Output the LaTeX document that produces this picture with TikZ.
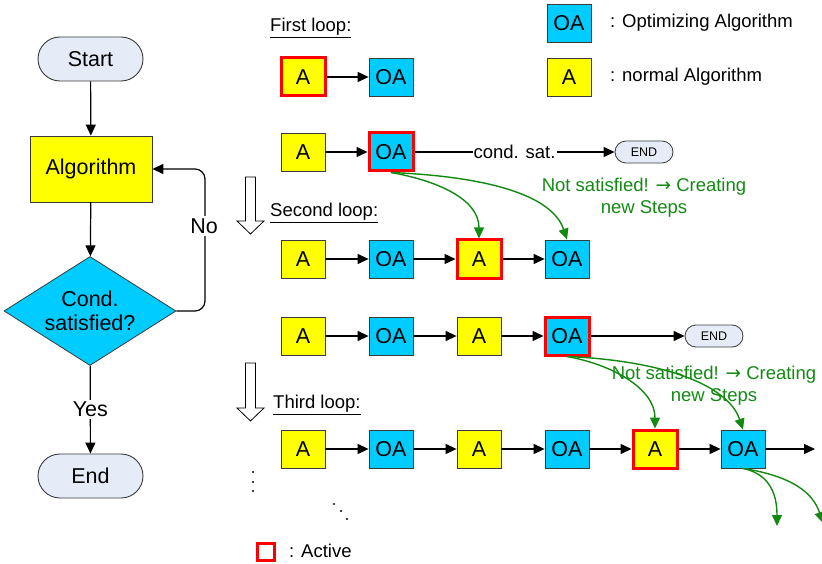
\documentclass[tikz,border=0pt]{standalone}
\usepackage{fontspec}
\setmainfont{Liberation Sans}
\newfontfamily\symfont{DejaVu Sans}
\usetikzlibrary{shapes.geometric,arrows.meta}
\definecolor{oacyan}{HTML}{00CCFF}
\definecolor{ayellow}{HTML}{FFFF00}
\definecolor{termfill}{HTML}{E6ECF7}
\definecolor{gline}{HTML}{128A12}
\definecolor{boxline}{HTML}{3A3A3A}
\begin{document}
\begin{tikzpicture}[x=1pt,y=-1pt,
  font=\fontsize{21.5}{24}\selectfont,
  abox/.style={draw=boxline, line width=0.8pt, fill=ayellow, minimum width=44pt, minimum height=38pt, inner sep=0pt},
  oabox/.style={abox, fill=oacyan},
  active/.style={draw=red, line width=3pt},
  term/.style={draw=boxline, line width=0.9pt, fill=termfill, rounded corners=22pt, minimum width=105pt, minimum height=44pt, inner sep=0pt},
  smallterm/.style={draw=boxline, line width=0.8pt, fill=termfill, rounded corners=11pt, minimum width=58pt, minimum height=22pt, inner sep=0pt, font=\fontsize{12.5}{14}\selectfont},
  arr/.style={-{Triangle[length=11pt,width=10pt]}, line width=1.2pt},
  garr/.style={-{Triangle[length=11pt,width=10pt]}, line width=1.4pt, draw=gline},
  lab/.style={font=\fontsize{18.5}{22}\selectfont, anchor=west, inner sep=0pt},
  gtext/.style={text=gline, font=\fontsize{18.5}{22}\selectfont, align=center, inner sep=0pt},
  hollow/.style={draw=black, line width=0.8pt, fill=white},
  dot/.style={fill=black, circle, inner sep=0pt, minimum size=2.2pt}
]
\useasboundingbox (0,0) rectangle (822,564);

% ---- left flowchart ----
\node[term] (start) at (90.5,59) {Start};
\node[abox, minimum width=122pt, minimum height=66pt] (alg) at (91,169) {Algorithm};
\node[diamond, draw=boxline, line width=0.8pt, fill=oacyan, aspect=1.58, inner sep=0pt,
      minimum width=172pt, minimum height=109pt, align=center] (cond) at (90,311) {Cond.\\satisfied?};
\node[term] (endn) at (90.5,476) {End};
\coordinate (nox) at (205,240);

\draw[arr] (start) -- (alg);
\draw[arr] (alg) -- (cond);
\draw[arr] (cond) -- node[fill=white, inner sep=2pt] (yes) {Yes} (endn);
\draw[arr, rounded corners=10pt] (cond.east) -| (nox) |- (alg.east);
\node[fill=white, inner sep=2pt] (no) at (204,226) {No};

% ---- legend ----
\node[oabox] (legoa) at (569,23) {OA};
\node[abox] (lega) at (569,77) {A};
\node[lab] (legoat) at (610,23) {: Optimizing Algorithm};
\node[lab] (legat) at (610,77) {: normal Algorithm};
\node[draw=red, line width=3pt, minimum size=17pt, inner sep=0pt] (legact) at (266,552) {};
\node[lab] (legactt) at (289,551) {: Active};

% ---- loop labels ----
\node[lab] (l1) at (270,28) {\underline{First loop:}};
\node[lab] (l2) at (270,213) {\underline{Second loop:}};
\node[lab] (l3) at (273,405) {\underline{Third loop:}};

% hollow arrows
\draw[hollow] (245.5,177) -- (255.5,177) -- (255.5,221) -- (264,221) -- (250.5,234) -- (237,221) -- (245.5,221) -- cycle;
\draw[hollow] (245.5,363) -- (255.5,363) -- (255.5,408) -- (264,408) -- (250.5,421) -- (237,408) -- (245.5,408) -- cycle;

% ---- row 1 ----
\node[abox, active] (r1a) at (303,77) {A};
\node[oabox] (r1oa) at (391,77) {OA};
\draw[arr] (r1a) -- (r1oa);

% ---- row 2 ----
\node[abox] (r2a) at (303,152) {A};
\node[oabox, active] (r2oa) at (391,152) {OA};
\node[smallterm] (end2) at (644,152) {END};
\draw[arr] (r2a) -- (r2oa);
\draw[arr] (r2oa) -- node[fill=white, inner sep=1pt, font=\fontsize{18.5}{22}\selectfont] (cs) {cond. sat.} (end2);
\node[gtext] (ns1) at (644,198) {Not satisfied! {\symfont →} Creating\\new Steps};

% ---- row 3 ----
\node[abox] (r3a1) at (303,259) {A};
\node[oabox] (r3oa1) at (391,259) {OA};
\node[abox, active] (r3a2) at (479,259) {A};
\node[oabox] (r3oa2) at (567,259) {OA};
\draw[arr] (r3a1) -- (r3oa1);
\draw[arr] (r3oa1) -- (r3a2);
\draw[arr] (r3a2) -- (r3oa2);
\draw[garr] (r2oa.south) .. controls +(45,8) and +(0,-40) .. (r3a2.north);
\draw[garr] (r2oa.south) .. controls +(95,4) and +(-15,-45) .. (r3oa2.north);

% ---- row 4 ----
\node[abox] (r4a1) at (303,336) {A};
\node[oabox] (r4oa1) at (391,336) {OA};
\node[abox] (r4a2) at (479,336) {A};
\node[oabox, active] (r4oa2) at (567,336) {OA};
\node[smallterm] (end4) at (714,336) {END};
\draw[arr] (r4a1) -- (r4oa1);
\draw[arr] (r4oa1) -- (r4a2);
\draw[arr] (r4a2) -- (r4oa2);
\draw[arr] (r4oa2) -- (end4);

% ---- row 5 ----
\node[abox] (r5a1) at (303,449) {A};
\node[oabox] (r5oa1) at (391,449) {OA};
\node[abox] (r5a2) at (479,449) {A};
\node[oabox] (r5oa2) at (567,449) {OA};
\node[abox, active] (r5a3) at (655,449) {A};
\node[oabox] (r5oa3) at (743,449) {OA};
\coordinate (r5end) at (815,449);
\draw[arr] (r5a1) -- (r5oa1);
\draw[arr] (r5oa1) -- (r5a2);
\draw[arr] (r5a2) -- (r5oa2);
\draw[arr] (r5oa2) -- (r5a3);
\draw[arr] (r5a3) -- (r5oa3);
\draw[arr] (r5oa3) -- (r5end);

\draw[garr] (r4oa2.south) .. controls +(45,8) and +(0,-40) .. (r5a3.north);
\draw[garr] (r4oa2.south) .. controls +(95,4) and +(-15,-45) .. (r5oa3.north);
\node[gtext] (ns2) at (714,386) {Not satisfied! {\symfont →} Creating\\new Steps};

\coordinate (g1) at (777,526);
\coordinate (g2) at (823,523);
\draw[garr] (r5oa3.south) .. controls +(28,6) and +(0,-30) .. (g1);
\draw[garr] (r5oa3.south) .. controls +(50,8) and +(-10,-30) .. (g2);

% dots
\node[dot] (d1) at (253,472) {};
\node[dot] (d2) at (253,482) {};
\node[dot] (d3) at (253,491) {};
\node[dot] (d4) at (334,504) {};
\node[dot] (d5) at (341,511) {};
\node[dot] (d6) at (347,519) {};
\end{tikzpicture}
\end{document}
